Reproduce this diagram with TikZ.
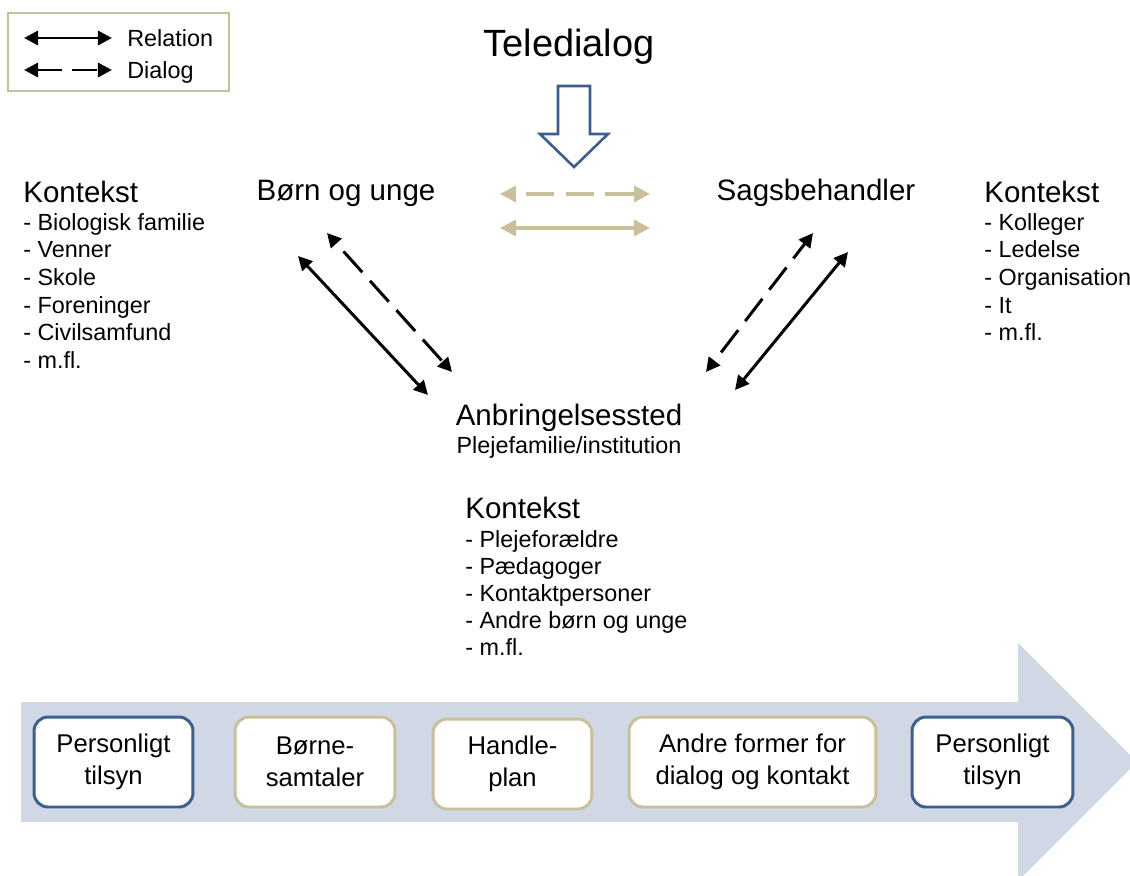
\documentclass[tikz,border=0pt]{standalone}
\usepackage{fontspec}
\setmainfont{Liberation Sans}
\usetikzlibrary{arrows.meta}

\definecolor{frameblue}{RGB}{61,95,143}
\definecolor{frametan}{RGB}{201,192,153}
\definecolor{bandgray}{RGB}{208,216,230}

\tikzset{
    relation/.style={line width=1.7pt, >={Triangle[length=8pt,width=8pt]}, <->},
    dialog/.style={relation, dash pattern=on 16pt off 6.5pt, dash phase=16pt},
    bigtext/.style={font=\fontsize{16.8}{20}\selectfont, inner sep=0pt},
    smalltext/.style={font=\fontsize{13.3}{16}\selectfont, inner sep=0pt},
    stepbox/.style={draw, line width=1.7pt, fill=white, rounded corners=8pt,
        minimum height=1.8cm, align=center, font=\fontsize{14.6}{18}\selectfont},
}

\begin{document}
\begin{tikzpicture}[x=0.02cm, y=-0.02cm]

\useasboundingbox (0,0) rectangle (1130,876);

% time line
\begin{scope}
\clip (0,0) rectangle (1130,876);
\fill[bandgray] (21,702) -- (1018,702) -- (1018,643) -- (1137,762)
    -- (1018,881) -- (1018,822) -- (21,822) -- cycle;
\end{scope}

% legend
\draw[frametan, line width=1.7pt] (8,13) rectangle (229,91);
\coordinate (rel-a) at (24,38);
\coordinate (rel-b) at (112,38);
\coordinate (dia-a) at (24,70);
\coordinate (dia-b) at (112,70);
\draw[relation] (rel-a) -- (rel-b);
\draw[relation, dash pattern=on 14pt off 6pt] (dia-a) -- (dia-b);
\node[smalltext, anchor=base west] (rel) at (127,46) {Relation};
\node[smalltext, anchor=base west] (dia) at (127,78) {Dialog};

% teledialog
\node[font=\fontsize{21.6}{26}\selectfont, inner sep=0pt, anchor=base] (tele) at (569,56) {Teledialog};
\draw[frameblue, line width=1.5pt, fill=white, line join=miter]
    (558,86) -- (590,86) -- (590,134) -- (608,134) -- (574,167)
    -- (540,134) -- (558,134) -- cycle;

\coordinate (td-a) at (500,194);
\coordinate (td-b) at (650,194);
\coordinate (tr-a) at (500,228);
\coordinate (tr-b) at (650,228);
\draw[dialog, frametan, line width=2pt, >={Triangle[length=9pt,width=9pt]}] (td-a) -- (td-b);
\draw[relation, frametan, line width=2pt, >={Triangle[length=9pt,width=9pt]}] (tr-a) -- (tr-b);

% actors
\node[bigtext, anchor=base] (boern) at (346,200) {Børn og unge};
\node[bigtext, anchor=base] (sags) at (816,200) {Sagsbehandler};
\node[bigtext, anchor=base] (anbr) at (569,425) {Anbringelsessted};
\node[smalltext, anchor=base] (pleje) at (569,453) {Plejefamilie/institution};

\coordinate (bd-a) at (327,233);
\coordinate (bd-b) at (452,372);
\coordinate (br-a) at (298,256);
\coordinate (br-b) at (428,395);
\coordinate (sd-a) at (706,372);
\coordinate (sd-b) at (813,233);
\coordinate (sr-a) at (735,390);
\coordinate (sr-b) at (848,252);
\draw[dialog] (bd-a) -- (bd-b);
\draw[relation] (br-a) -- (br-b);
\draw[dialog] (sd-a) -- (sd-b);
\draw[relation] (sr-a) -- (sr-b);

% kontekst
\node[bigtext, anchor=base west] (kon-l) at (23,202) {Kontekst};
\foreach \t [count=\i] in {Biologisk familie, Venner, Skole, Foreninger, Civilsamfund, m.fl.}
    \node[smalltext, anchor=base west] (kon-l\i) at (23,{230+27.7*(\i-1)}) {- \t};

\node[bigtext, anchor=base west] (kon-r) at (984,202) {Kontekst};
\foreach \t [count=\i] in {Kolleger, Ledelse, Organisation, It, m.fl.}
    \node[smalltext, anchor=base west] (kon-r\i) at (984,{230+27.7*(\i-1)}) {- \t};

\node[bigtext, anchor=base west] (kon-b) at (465,518) {Kontekst};
\foreach \t [count=\i] in {Plejeforældre, Pædagoger, Kontaktpersoner, Andre børn og unge, m.fl.}
    \node[smalltext, anchor=base west] (kon-b\i) at (465,{547+27*(\i-1)}) {- \t};

% steps
\node[stepbox, draw=frameblue, minimum width=3.18cm] (tilsyn1) at (113.5,762) {Personligt\\tilsyn};
\node[stepbox, draw=frametan, minimum width=3.2cm] (samtale) at (315,762) {Børne-\\samtaler};
\node[stepbox, draw=frametan, minimum width=3.18cm] (plan) at (512.5,764) {Handle-\\plan};
\node[stepbox, draw=frametan, minimum width=4.94cm] (andre) at (752.5,762) {Andre former for\\dialog og kontakt};
\node[stepbox, draw=frameblue, minimum width=3.22cm] (tilsyn2) at (992.5,762) {Personligt\\tilsyn};

\end{tikzpicture}
\end{document}
